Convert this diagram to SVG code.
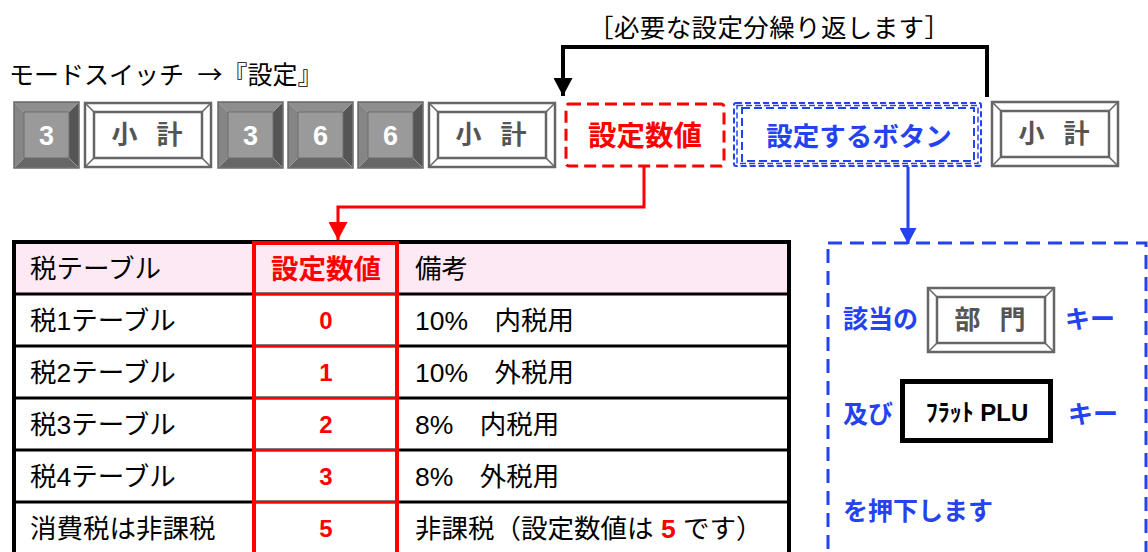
<svg xmlns="http://www.w3.org/2000/svg" xmlns:xlink="http://www.w3.org/1999/xlink" width="1148" height="552" viewBox="0 0 1148 552">
<style>
.jp{font-family:"Liberation Sans","Noto Sans CJK JP",sans-serif;}
.t{font-size:26.5px;fill:#000;}
.val{font-family:"Liberation Sans","Noto Sans CJK JP",sans-serif;font-size:24px;font-weight:bold;fill:#ff0000;text-anchor:middle;}
.num{font-family:"Liberation Sans",sans-serif;font-size:27px;font-weight:bold;fill:#fff;text-anchor:middle;}
.kt{font-family:"Noto Sans CJK JP",sans-serif;font-size:26px;font-weight:bold;fill:#555;text-anchor:middle;word-spacing:13px;}
.blue{font-family:"Noto Sans CJK JP",sans-serif;font-size:25px;font-weight:bold;fill:#2442f0;}
.row{stroke:#000;stroke-width:3;}
.rrow{stroke:#ff0000;stroke-width:2;}
</style>
<defs>
<g id="grayKey">
<rect x="0" y="0" width="65" height="66" fill="#808080" stroke="#6a6a6a" stroke-width="1.5"/>
<polygon points="1,1 64,1 55,10 10,10" fill="#8e8e8e"/>
<polygon points="1,1 10,10 10,56 1,65" fill="#858585"/>
<polygon points="64,1 64,65 55,56 55,10" fill="#555"/>
<polygon points="1,65 64,65 55,56 10,56" fill="#666"/>
<rect x="10" y="10" width="45" height="46" fill="#9a9a9a" stroke="#6e6e6e" stroke-width="1"/>
<path d="M1,1 L10,10 M64,1 L55,10 M1,65 L10,56 M64,65 L55,56" stroke="#999" stroke-width="1"/>
</g>
<g id="whiteKey">
<rect x="1" y="1" width="126" height="64" fill="#fff" stroke="#666" stroke-width="2.5"/>
<rect x="10" y="10" width="108" height="46" fill="#fff" stroke="#666" stroke-width="2.5"/>
<path d="M1,1 L10,10 M127,1 L118,10 M1,65 L10,56 M127,65 L118,56" stroke="#666" stroke-width="1.5"/>
</g>
<marker id="ahBlack" markerUnits="userSpaceOnUse" markerWidth="19" markerHeight="19" refX="18" refY="9.5" orient="auto">
<path d="M0,0 L18,9.5 L0,19 z" fill="#000"/>
</marker>
<marker id="ahRed" markerUnits="userSpaceOnUse" markerWidth="19" markerHeight="19" refX="18" refY="9.5" orient="auto">
<path d="M0,0 L18,9.5 L0,19 z" fill="#ff0000"/>
</marker>
<marker id="ahBlue" markerUnits="userSpaceOnUse" markerWidth="17" markerHeight="17" refX="16" refY="8.5" orient="auto">
<path d="M0,0 L16,8.5 L0,17 z" fill="#2442f0"/>
</marker>
</defs>

<g id="title-mode">
<text x="9" y="84" font-family="Noto Sans CJK JP,sans-serif" font-size="25" fill="#000" word-spacing="8">モードスイッチ →『設定』</text>
</g>
<g id="title-repeat">
<text x="588" y="37" font-family="Noto Sans CJK JP,sans-serif" font-size="25.5" fill="#000" textLength="362" lengthAdjust="spacing">［必要な設定分繰り返します］</text>
</g>

<g id="key-3a"><use xlink:href="#grayKey" x="14" y="102"/><text class="num" x="46.5" y="145">3</text></g>
<g id="key-sub1"><use xlink:href="#whiteKey" x="84" y="102"/><text class="kt" x="147" y="144">小 計</text></g>
<g id="key-3b"><use xlink:href="#grayKey" x="218" y="102"/><text class="num" x="250.5" y="145">3</text></g>
<g id="key-6a"><use xlink:href="#grayKey" x="288" y="102"/><text class="num" x="320.5" y="145">6</text></g>
<g id="key-6b"><use xlink:href="#grayKey" x="358" y="102"/><text class="num" x="390.5" y="145">6</text></g>
<g id="key-sub2"><use xlink:href="#whiteKey" x="428" y="102"/><text class="kt" x="491" y="144">小 計</text></g>

<g id="box-value">
<rect x="566" y="104" width="158" height="62" rx="3" fill="#fff" stroke="#ff0000" stroke-width="3" stroke-dasharray="12 6"/>
<text x="645" y="146" font-family="Noto Sans CJK JP,sans-serif" font-size="28.5" font-weight="bold" fill="#ff0000" text-anchor="middle">設定数値</text>
</g>

<g id="box-button">
<rect x="734" y="103" width="247" height="63" rx="2" fill="#fff" stroke="#2442f0" stroke-width="2" stroke-dasharray="6 3"/>
<rect x="737" y="105.5" width="241" height="58" fill="none" stroke="#2442f0" stroke-width="1.5" stroke-dasharray="6 3"/>
<rect x="742" y="108" width="232" height="53" fill="none" stroke="#2442f0" stroke-width="2" stroke-dasharray="8 4"/>
<text x="859" y="146" font-family="Noto Sans CJK JP,sans-serif" font-size="26.5" font-weight="bold" fill="#2442f0" text-anchor="middle">設定するボタン</text>
</g>

<g id="key-sub3"><use xlink:href="#whiteKey" x="991" y="101"/><text class="kt" x="1054" y="143">小 計</text></g>

<g id="connectors">
<path d="M987,97 V47 H563 V96" fill="none" stroke="#000" stroke-width="4" marker-end="url(#ahBlack)"/>
<path d="M644,167 V207 H338 V240" fill="none" stroke="#ff0000" stroke-width="3" marker-end="url(#ahRed)"/>
<path d="M908,167 V244" fill="none" stroke="#2442f0" stroke-width="3" marker-end="url(#ahBlue)"/>
</g>

<g id="table">
<rect x="14" y="242" width="775" height="52" fill="#fde9f4"/>
<rect x="14" y="242" width="775" height="330" fill="none" stroke="#000" stroke-width="4"/>
<line class="row" x1="14" y1="294" x2="789" y2="294"/>
<line class="row" x1="14" y1="346" x2="789" y2="346"/>
<line class="row" x1="14" y1="398" x2="789" y2="398"/>
<line class="row" x1="14" y1="450" x2="789" y2="450"/>
<line class="row" x1="14" y1="502" x2="789" y2="502"/>
<line class="rrow" x1="253" y1="294" x2="398" y2="294"/>
<line class="rrow" x1="253" y1="346" x2="398" y2="346"/>
<line class="rrow" x1="253" y1="398" x2="398" y2="398"/>
<line class="rrow" x1="253" y1="450" x2="398" y2="450"/>
<line class="rrow" x1="253" y1="502" x2="398" y2="502"/>
<path d="M254,560 V243 H397 V560" fill="none" stroke="#ff0000" stroke-width="4"/>

<text class="jp t" x="30" y="278">税テーブル</text>
<text x="326" y="279" font-family="Noto Sans CJK JP,sans-serif" font-size="27.5" font-weight="bold" fill="#ff0000" text-anchor="middle">設定数値</text>
<text class="jp t" x="415" y="278">備考</text>

<text class="jp t" x="30" y="330">税1テーブル</text>
<text class="val" x="326" y="329">0</text>
<text class="jp t" x="415" y="330">10%　内税用</text>

<text class="jp t" x="30" y="382">税2テーブル</text>
<text class="val" x="326" y="381">1</text>
<text class="jp t" x="415" y="382">10%　外税用</text>

<text class="jp t" x="30" y="434">税3テーブル</text>
<text class="val" x="326" y="433">2</text>
<text class="jp t" x="415" y="434">8%　内税用</text>

<text class="jp t" x="30" y="486">税4テーブル</text>
<text class="val" x="326" y="485">3</text>
<text class="jp t" x="415" y="486">8%　外税用</text>

<text class="jp t" x="30" y="538">消費税は非課税</text>
<text class="val" x="326" y="537">5</text>
<text class="jp t" x="415" y="538">非課税（設定数値は <tspan font-weight="bold" fill="#ff0000">5</tspan> です）</text>
</g>

<g id="box-instructions">
<rect x="828" y="243" width="318" height="330" fill="none" stroke="#2442f0" stroke-width="3" stroke-dasharray="14 8"/>
<text class="blue" x="843" y="328">該当の</text>
<text class="blue" x="1065" y="328">キー</text>
<text class="blue" x="843" y="423">及び</text>
<text class="blue" x="1068" y="423">キー</text>
<text class="blue" x="843" y="520">を押下します</text>
</g>
<g id="key-dept"><use xlink:href="#whiteKey" x="927" y="287"/><text class="kt" x="990" y="329">部 門</text></g>
<g id="key-flat-plu">
<rect x="902.5" y="381.5" width="148" height="59" fill="#fff" stroke="#000" stroke-width="5"/>
<text x="977" y="421" font-family="Liberation Sans,Noto Sans CJK JP,sans-serif" font-size="24" font-weight="bold" fill="#000" text-anchor="middle">ﾌﾗｯﾄ PLU</text>
</g>
</svg>
